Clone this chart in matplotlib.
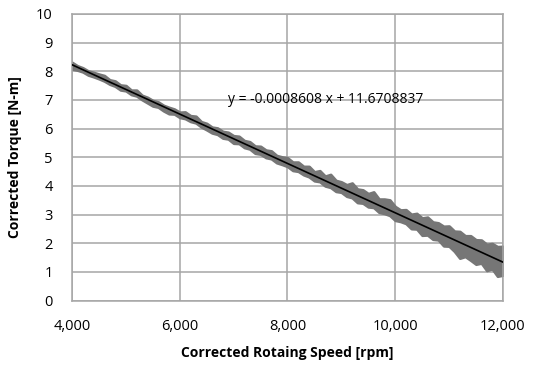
import matplotlib
matplotlib.use("Agg")
import matplotlib.pyplot as plt
from matplotlib.ticker import FuncFormatter
import numpy as np

# measured torque band (upper / lower edge of the gray data cloud), every 100 rpm
speed = list(range(4000, 12001, 100))
torque_hi = [8.31, 8.19, 8.12, 8.01, 7.96, 7.90, 7.85, 7.70, 7.66, 7.52,
             7.50, 7.34, 7.34, 7.16, 7.09, 6.98, 6.93, 6.81, 6.74, 6.68,
             6.57, 6.58, 6.45, 6.43, 6.24, 6.18, 6.05, 6.02, 5.90, 5.87,
             5.75, 5.73, 5.58, 5.54, 5.39, 5.38, 5.25, 5.22, 5.06, 5.01,
             4.98, 4.83, 4.83, 4.68, 4.68, 4.49, 4.53, 4.34, 4.40, 4.19,
             4.14, 4.04, 4.10, 3.89, 3.86, 3.73, 3.79, 3.54, 3.54, 3.51,
             3.28, 3.16, 3.17, 3.01, 3.04, 2.88, 2.91, 2.74, 2.71, 2.59,
             2.60, 2.42, 2.41, 2.26, 2.26, 2.12, 2.11, 1.96, 1.99, 1.88,
             1.89]
torque_lo = [8.08, 8.04, 7.98, 7.87, 7.81, 7.74, 7.66, 7.55, 7.48, 7.35,
             7.32, 7.19, 7.14, 7.01, 6.90, 6.79, 6.75, 6.62, 6.52, 6.51,
             6.39, 6.35, 6.25, 6.20, 6.06, 5.96, 5.85, 5.80, 5.67, 5.64,
             5.49, 5.48, 5.34, 5.29, 5.14, 5.11, 4.99, 4.95, 4.81, 4.75,
             4.68, 4.54, 4.51, 4.39, 4.32, 4.18, 4.15, 4.00, 3.95, 3.81,
             3.78, 3.64, 3.59, 3.42, 3.40, 3.27, 3.25, 3.08, 3.04, 2.97,
             2.80, 2.76, 2.69, 2.51, 2.50, 2.28, 2.29, 2.14, 2.12, 1.91,
             1.90, 1.72, 1.48, 1.54, 1.41, 1.27, 1.31, 1.05, 1.11, 0.85,
             0.89]

# linear fit shown on the chart
slope = -0.0008608
intercept = 11.6708837

plt.rcParams['font.family'] = ['Open Sans', 'DejaVu Sans']

fig = plt.figure(figsize=(5.35, 3.67), dpi=100)
ax = fig.add_axes([0.1346, 0.181, 0.8054, 0.781])

ax.fill_between(speed, torque_lo, torque_hi, color='#767676', lw=2,
                edgecolor='#767676', zorder=2)

xs = np.array([speed[0], speed[-1]])
ax.plot(xs, slope * xs + intercept, color='black', lw=1.2, zorder=3)

ax.text(6900, 7.0, 'y = -0.0008608 x + 11.6708837', fontsize=10,
        va='center', ha='left', zorder=4)

ax.set_xlim(4000, 12000)
ax.set_ylim(0, 10)
ax.set_xticks([4000, 6000, 8000, 10000, 12000])
ax.set_yticks(range(0, 11))
ax.xaxis.set_major_formatter(FuncFormatter(lambda v, p: f'{int(v):,}'))
ax.grid(True, color='#a6a6a6', lw=1.1, zorder=1)
ax.set_axisbelow(True)
for s in ax.spines.values():
    s.set_color('#a6a6a6')
    s.set_linewidth(1.1)
ax.tick_params(length=0, labelsize=10.5, pad=13)
ax.tick_params(axis='y', pad=14)

ax.set_xlabel('Corrected Rotaing Speed [rpm]', fontsize=10, fontweight='bold',
              labelpad=9)
ax.set_ylabel('Corrected Torque [N-m]', fontsize=10, fontweight='bold',
              labelpad=10)

fig.savefig('out.png', dpi=100)
